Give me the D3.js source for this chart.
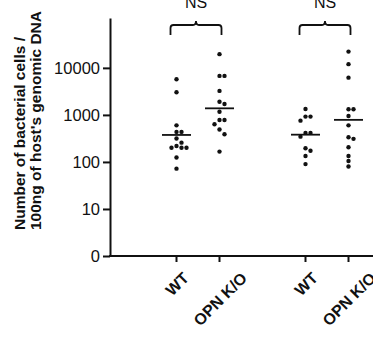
<!DOCTYPE html>
<html>
<head>
<meta charset="utf-8">
<script src="https://cdn.jsdelivr.net/npm/d3@7"></script>
<style>
  body { margin: 0; background: #fff; }
  svg { display: block; font-family: "Liberation Sans", Arial, sans-serif; }
</style>
</head>
<body>
<div id="chart"></div>
<script>
const WIDTH = 373;
const HEIGHT = 337;

// two experiments, each WT vs OPN K/O
const groups = ['exp1', 'exp2'];
const genotypes = ['WT', 'OPN K/O'];
const comparisons = ['NS', 'NS'];

const yTickValues = [1, 10, 100, 1000, 10000];
const yTickLabels = ['0', '10', '100', '1000', '10000'];
const titleLines = ['Number of bacterial cells /', "100ng of host's genomic DNA"];

// bacterial cells per 100ng host DNA
const wt1 = [5750, 3030, 600, 435, 435, 315, 257, 218, 200, 200, 200, 124, 72];
const opn1 = [19600, 6760, 6760, 3240, 1900, 1710, 1170, 780, 780, 634, 488, 389, 166];
const wt2 = [1340, 920, 920, 755, 415, 415, 345, 195, 173, 134, 90];
const opn2 = [22200, 12000, 6200, 1320, 1320, 950, 600, 335, 310, 205, 134, 105, 80];
// horizontal bars = geometric means
const geoMeans = [375, 1380, 380, 785];

const seriesList = [
  { group: 'exp1', geno: 'WT', values: wt1, mean: geoMeans[0] },
  { group: 'exp1', geno: 'OPN K/O', values: opn1, mean: geoMeans[1] },
  { group: 'exp2', geno: 'WT', values: wt2, mean: geoMeans[2] },
  { group: 'exp2', geno: 'OPN K/O', values: opn2, mean: geoMeans[3] },
];

const margin = { left: 110, bottom: 256, top: 18 };

const svg = d3.select('#chart')
  .append('svg')
  .attr('width', WIDTH)
  .attr('height', HEIGHT);

const y = d3.scaleLog().domain([1, 115000]).range([margin.bottom, margin.top]);
const xGroup = d3.scalePoint().domain(groups).range([198, 327]);
const xGeno = d3.scalePoint().domain(genotypes).range([-21.5, 21.5]);
const xPos = (g, k) => xGroup(g) + xGeno(k);

// y axis
const yAx = svg.append('g')
  .attr('transform', `translate(${margin.left},0)`)
  .call(d3.axisLeft(y)
    .tickValues(yTickValues)
    .tickFormat((d, i) => yTickLabels[i])
    .tickSize(7)
    .tickSizeOuter(0)
    .tickPadding(3));
yAx.select('.domain').attr('stroke', '#111').attr('stroke-width', 2);
yAx.selectAll('.tick line').attr('stroke', '#111').attr('stroke-width', 2);
yAx.selectAll('.tick text')
  .attr('fill', '#111')
  .style('font-size', '16.5px')
  .style('font-family', '"Liberation Sans", Arial, sans-serif');

// x axis line + ticks
svg.append('line')
  .attr('x1', margin.left - 1).attr('x2', WIDTH)
  .attr('y1', margin.bottom).attr('y2', margin.bottom)
  .attr('stroke', '#111').attr('stroke-width', 2);

svg.selectAll('.xtick')
  .data(seriesList)
  .enter()
  .append('line')
  .attr('class', 'xtick')
  .attr('x1', (d) => xPos(d.group, d.geno))
  .attr('x2', (d) => xPos(d.group, d.geno))
  .attr('y1', margin.bottom)
  .attr('y2', margin.bottom + 6)
  .attr('stroke', '#111').attr('stroke-width', 2);

// rotated category labels, bounding box hanging below the axis
const labelTop = 271;
svg.selectAll('.xlab')
  .data(seriesList)
  .enter()
  .append('text')
  .attr('class', 'xlab')
  .attr('text-anchor', 'middle')
  .attr('dy', '0.36em')
  .style('font-size', '16px')
  .style('font-weight', 'bold')
  .attr('fill', '#111')
  .text((d) => d.geno)
  .each(function (d) {
    const L = this.getComputedTextLength();
    const h = 11.5;
    const cy = labelTop + (L + h) * 0.3536;
    const cx = xPos(d.group, d.geno) + 0.5;
    d3.select(this).attr('transform', `translate(${cx},${cy}) rotate(-45)`);
  });

// y title, reads bottom to top starting at y=230
const title = svg.append('text')
  .attr('transform', 'rotate(-90)')
  .style('font-size', '15.5px')
  .style('font-weight', 'bold')
  .attr('fill', '#111');
title.append('tspan').attr('x', -230).attr('y', 25).text(titleLines[0]);
title.append('tspan').attr('x', -230).attr('y', 41).text(titleLines[1]);

// simple beeswarm so that dots with close values sit side by side
function swarm(values) {
  const placed = [];
  const step = 5;
  const minD = 4.7;
  values
    .map((v) => ({ v, y: y(v) }))
    .sort((a, b) => a.y - b.y)
    .forEach((p) => {
      for (let k = 0; k < 30; k++) {
        const off = k === 0 ? 0 : (k % 2 ? 1 : -1) * Math.ceil(k / 2) * step;
        const hit = placed.some((q) => Math.hypot(q.dx - off, q.y - p.y) < minD);
        if (!hit) {
          placed.push({ v: p.v, y: p.y, dx: off });
          break;
        }
      }
    });
  return placed;
}

const dotG = svg.append('g');
seriesList.forEach((s) => {
  const cx = xPos(s.group, s.geno);
  dotG.selectAll(null)
    .data(swarm(s.values))
    .enter()
    .append('circle')
    .attr('cx', (d) => cx + d.dx)
    .attr('cy', (d) => d.y)
    .attr('r', 2.2)
    .attr('fill', '#111');

  dotG.append('line')
    .attr('x1', cx - 14.5).attr('x2', cx + 14.5)
    .attr('y1', y(s.mean)).attr('y2', y(s.mean))
    .attr('stroke', '#111').attr('stroke-width', 1.8);
});

// significance brackets
groups.forEach((g, i) => {
  const left = xPos(g, genotypes[0]) - 6;
  const right = xPos(g, genotypes[1]) + 2;
  const mid = (left + right) / 2;
  const top = 25;
  const bottom = 35;
  const p = d3.path();
  p.moveTo(left, bottom);
  p.lineTo(left, top + 3);
  p.quadraticCurveTo(left, top, left + 3, top);
  p.lineTo(mid - 3, top);
  p.quadraticCurveTo(mid, top, mid, top - 4);
  p.quadraticCurveTo(mid, top, mid + 3, top);
  p.lineTo(right - 3, top);
  p.quadraticCurveTo(right, top, right, top + 3);
  p.lineTo(right, bottom);
  svg.append('path')
    .attr('d', p.toString())
    .attr('fill', 'none')
    .attr('stroke', '#111')
    .attr('stroke-width', 1.8);

  svg.append('text')
    .attr('x', mid)
    .attr('y', 8)
    .attr('text-anchor', 'middle')
    .style('font-size', '16px')
    .attr('fill', '#111')
    .text(comparisons[i]);
});
</script>
</body>
</html>
